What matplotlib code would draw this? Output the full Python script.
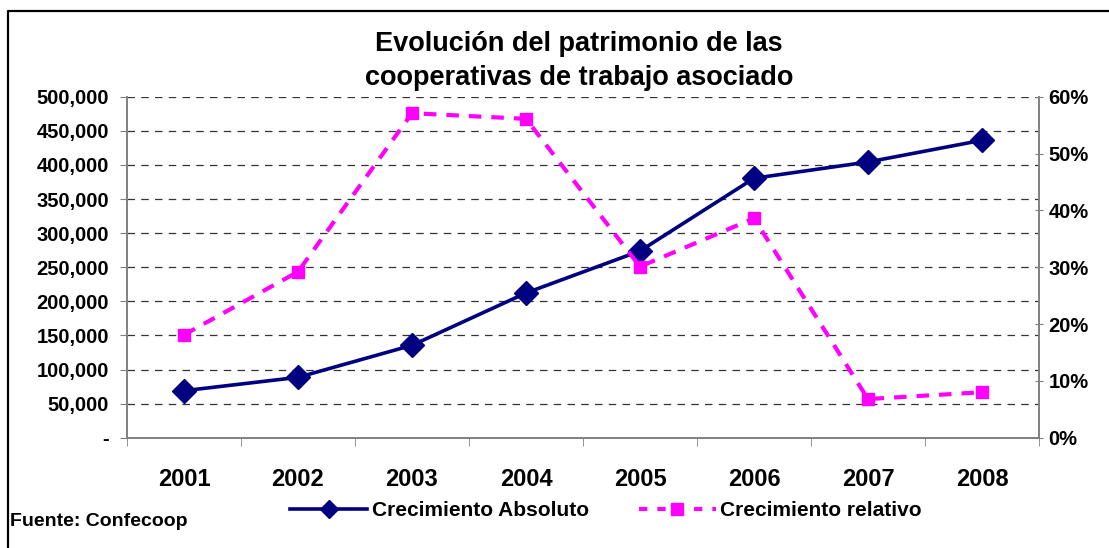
import numpy as np
import matplotlib
matplotlib.use("Agg")
from matplotlib import pyplot as plt
from matplotlib.lines import Line2D
from matplotlib.ticker import FuncFormatter, FixedLocator

plt.rcParams['font.family'] = ['Liberation Sans', 'DejaVu Sans']

# data
years = ["2001", "2002", "2003", "2004", "2005", "2006", "2007", "2008"]
absoluto = [68900, 88500, 135500, 212200, 273800, 380400, 404300, 436100]
relativo = [18.1, 29.2, 57.1, 56.1, 30.1, 38.6, 6.8, 8.0]  # percent

left_ticks = [0, 50000, 100000, 150000, 200000, 250000, 300000, 350000, 400000, 450000, 500000]
right_ticks = [0, 10, 20, 30, 40, 50, 60]

title = "Evolución del patrimonio de las\ncooperativas de trabajo asociado"
source = "Fuente: Confecoop"

W, H = 1109, 548
fig = plt.figure(figsize=(W / 100, H / 100), dpi=100)
ax = fig.add_axes([127 / W, 1 - 437.7 / H, (1039 - 127) / W, (437.7 - 96.7) / H])
ax2 = ax.twinx()

x = np.arange(len(years))
navy = "#000080"
pink = "#FF00FF"
axcol = "#808080"

# grid lines on left axis ticks
for v in left_ticks[1:]:
    ax.axhline(v, color="#333333", lw=0.9, dashes=(6, 5), zorder=1)

ax.plot(x, absoluto, color=navy, lw=2.6, marker="D", ms=12, zorder=4)
ax2.plot(x, relativo, color=pink, lw=3.0, dashes=(3, 2.4), marker="s", ms=9, zorder=4)

ax.set_xlim(-0.5, len(years) - 0.5)
ax.set_ylim(0, 500000)
ax2.set_ylim(0, 60)

ax.set_yticks(left_ticks)
ax.yaxis.set_major_formatter(FuncFormatter(lambda v, p: "-" if v == 0 else f"{int(v):,}"))
ax2.set_yticks(right_ticks)
ax2.yaxis.set_major_formatter(FuncFormatter(lambda v, p: f"{int(v)}%"))

ax.set_xticks(x)
ax.set_xticklabels(years)
ax.xaxis.set_minor_locator(FixedLocator(np.arange(-0.5, len(years), 1.0)))
ax.tick_params(axis="x", which="major", length=0, pad=22, labelsize=17)
ax.tick_params(axis="x", which="minor", length=6, color=axcol, direction="out")
ax.tick_params(axis="y", length=5, color=axcol, pad=8, labelsize=14.5)
ax2.tick_params(axis="y", length=6, color=axcol, direction="inout", pad=4, labelsize=14.5)
for lab in ax.get_xticklabels() + ax.get_yticklabels() + ax2.get_yticklabels():
    lab.set_fontweight("bold")

for a in (ax, ax2):
    a.spines["top"].set_visible(False)
    for s in ("left", "right", "bottom"):
        a.spines[s].set_color(axcol)
        a.spines[s].set_linewidth(1.2)

fig.text(579 / W, 1 - 61 / H, title, ha="center", va="center", fontsize=19.5,
         fontweight="bold", linespacing=1.4)
fig.text(10 / W, 1 - 522 / H, source, ha="left", va="center", fontsize=14, fontweight="bold")

handles = [
    Line2D([], [], color=navy, lw=2.6, marker="D", ms=9),
    Line2D([], [], color=pink, lw=3.0, dashes=(2, 2.4), marker="s", ms=8),
]
leg = fig.legend(handles, ["Crecimiento Absoluto", "Crecimiento relativo"],
                 loc="center", bbox_to_anchor=(606 / W, 1 - 511 / H), ncol=2,
                 frameon=False, handlelength=3.7, handletextpad=0.2, columnspacing=2.4,
                 prop={"weight": "bold", "size": 15})

# outer chart frame (only left and top are visible in the reference)
fig.add_artist(Line2D([8 / W, 8 / W, 1.0], [0.0, 1 - 11 / H, 1 - 11 / H],
                      transform=fig.transFigure, color="black", lw=1.6))

fig.savefig("out.png", dpi=100)
